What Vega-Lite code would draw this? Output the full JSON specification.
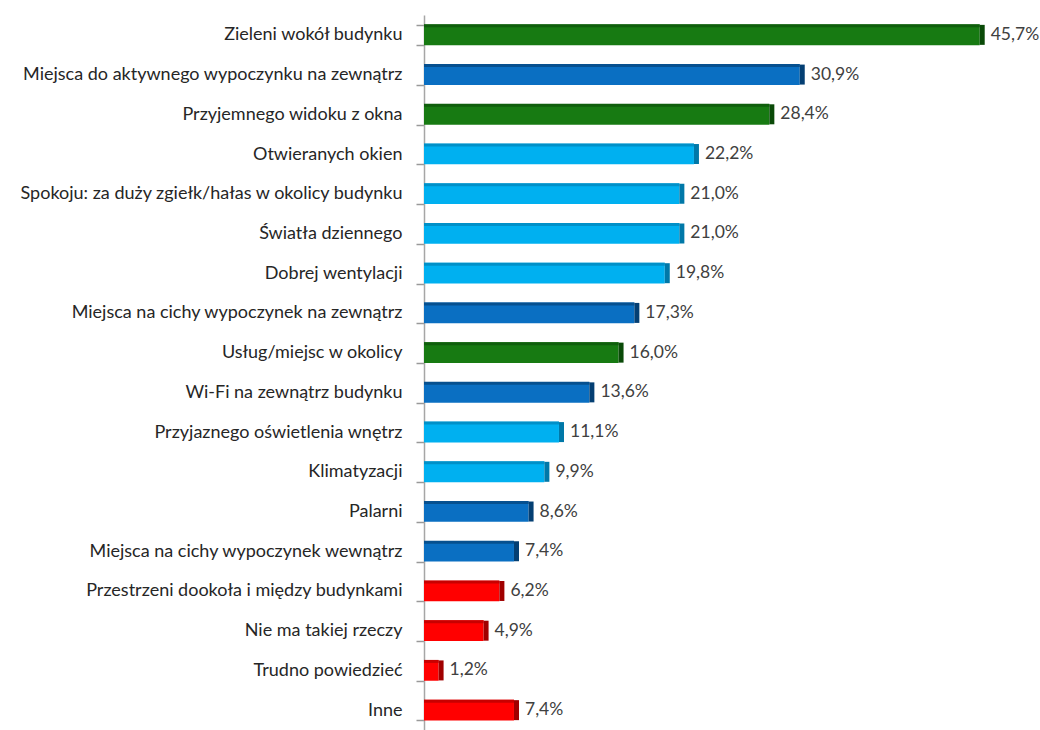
{
  "$schema": "https://vega.github.io/schema/vega-lite/v6.json",
  "autosize": {"type": "none"},
  "padding": {"left": 424, "top": 15, "right": 8, "bottom": 0},
  "width": 608,
  "height": 715,
  "background": "white",
  "config": {
    "view": {"stroke": null},
    "font": "Lato",
    "axisY": {"ticks": true, "tickSize": 8, "tickColor": "#999999", "tickOpacity": 1, "tickWidth": 1.5}
  },
  "data": {
    "values": [
      {"kategoria": "Zieleni wokół budynku", "wartosc": 45.7, "etykieta": "45,7%", "grupa": "g", "bok": "g2", "wierzch": "g3"},
      {"kategoria": "Miejsca do aktywnego wypoczynku na zewnątrz", "wartosc": 30.9, "etykieta": "30,9%", "grupa": "d", "bok": "d2", "wierzch": "d3"},
      {"kategoria": "Przyjemnego widoku z okna", "wartosc": 28.4, "etykieta": "28,4%", "grupa": "g", "bok": "g2", "wierzch": "g3"},
      {"kategoria": "Otwieranych okien", "wartosc": 22.2, "etykieta": "22,2%", "grupa": "l", "bok": "l2", "wierzch": "l3"},
      {"kategoria": "Spokoju:  za duży zgiełk/hałas w okolicy budynku", "wartosc": 21.0, "etykieta": "21,0%", "grupa": "l", "bok": "l2", "wierzch": "l3"},
      {"kategoria": "Światła dziennego", "wartosc": 21.0, "etykieta": "21,0%", "grupa": "l", "bok": "l2", "wierzch": "l3"},
      {"kategoria": "Dobrej wentylacji", "wartosc": 19.8, "etykieta": "19,8%", "grupa": "l", "bok": "l2", "wierzch": "l3"},
      {"kategoria": "Miejsca na cichy wypoczynek na zewnątrz", "wartosc": 17.3, "etykieta": "17,3%", "grupa": "d", "bok": "d2", "wierzch": "d3"},
      {"kategoria": "Usług/miejsc w okolicy", "wartosc": 16.0, "etykieta": "16,0%", "grupa": "g", "bok": "g2", "wierzch": "g3"},
      {"kategoria": "Wi-Fi na zewnątrz budynku", "wartosc": 13.6, "etykieta": "13,6%", "grupa": "d", "bok": "d2", "wierzch": "d3"},
      {"kategoria": "Przyjaznego oświetlenia wnętrz", "wartosc": 11.1, "etykieta": "11,1%", "grupa": "l", "bok": "l2", "wierzch": "l3"},
      {"kategoria": "Klimatyzacji", "wartosc": 9.9, "etykieta": "9,9%", "grupa": "l", "bok": "l2", "wierzch": "l3"},
      {"kategoria": "Palarni", "wartosc": 8.6, "etykieta": "8,6%", "grupa": "d", "bok": "d2", "wierzch": "d3"},
      {"kategoria": "Miejsca na cichy wypoczynek wewnątrz", "wartosc": 7.4, "etykieta": "7,4%", "grupa": "d", "bok": "d2", "wierzch": "d3"},
      {"kategoria": "Przestrzeni dookoła i między budynkami", "wartosc": 6.2, "etykieta": "6,2%", "grupa": "r", "bok": "r2", "wierzch": "r3"},
      {"kategoria": "Nie ma takiej rzeczy", "wartosc": 4.9, "etykieta": "4,9%", "grupa": "r", "bok": "r2", "wierzch": "r3"},
      {"kategoria": "Trudno powiedzieć", "wartosc": 1.2, "etykieta": "1,2%", "grupa": "r", "bok": "r2", "wierzch": "r3"},
      {"kategoria": "Inne", "wartosc": 7.4, "etykieta": "7,4%", "grupa": "r", "bok": "r2", "wierzch": "r3"}
    ]
  },
  "encoding": {
    "y": {
      "field": "kategoria", "type": "nominal", "sort": null,
      "scale": {"paddingInner": 0.48, "paddingOuter": 0.24},
      "axis": {
        "title": null, "ticks": true, "tickBand": "extent", "tickSize": 8, "tickWidth": 1.5, "tickColor": "#999999", "tickOpacity": 1, "labelPadding": 14,
        "domainColor": "#a6a6a6", "domainWidth": 1.5,
        "labelFont": "Lato", "labelFontSize": 18, "labelColor": "#262626", "labelLimit": 0
      }
    },
    "x": {"field": "wartosc", "type": "quantitative", "scale": {"domain": [0, 50]}, "axis": null}
  },
  "layer": [
    {
      "mark": {"type": "bar"},
      "encoding": {
        "color": {
          "field": "grupa", "type": "nominal", "legend": null,
          "scale": {
            "domain": ["g", "d", "l", "r", "g2", "d2", "l2", "r2", "g3", "d3", "l3", "r3"],
            "range": ["#177a12", "#0a6fc2", "#00b0f0", "#ff0000", "#0a4a08", "#043f73", "#0078a8", "#a00000", "#0f5e0c", "#06508f", "#0090c8", "#c80000"]
          }
        }
      }
    },
    {
      "mark": {"type": "bar", "height": 3, "yOffset": -9},
      "encoding": {
        "color": {"field": "wierzch", "type": "nominal", "legend": null}
      }
    },
    {
      "mark": {"type": "tick", "orient": "vertical", "thickness": 5, "size": 20, "xOffset": 2.5, "opacity": 1},
      "encoding": {
        "color": {"field": "bok", "type": "nominal", "legend": null}
      }
    },
    {
      "mark": {"type": "text", "align": "left", "baseline": "middle", "dx": 11, "fontSize": 17.5, "color": "#404040", "font": "Lato"},
      "encoding": {
        "text": {"field": "etykieta", "type": "nominal"}
      }
    }
  ]
}
